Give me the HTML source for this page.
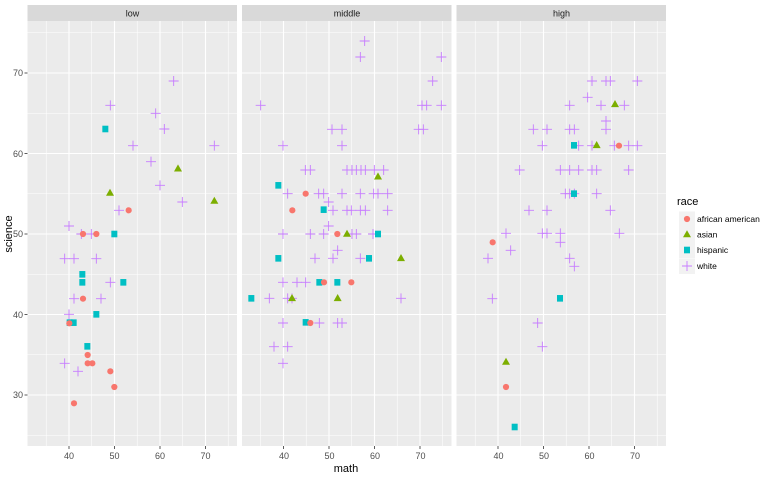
<!DOCTYPE html>
<html><head><meta charset="utf-8"><style>
html,body{margin:0;padding:0;background:#fff;}
svg{display:block;font-family:"Liberation Sans",sans-serif;}
</style></head><body>
<svg id="s" width="762" height="478" viewBox="0 0 762 478" xmlns="http://www.w3.org/2000/svg">
<g id="panels"></g>
<g font-size="9" fill="#1a1a1a" text-anchor="middle">
<text x="132.5" y="16.5">low</text>
<text x="347" y="16.5">middle</text>
<text x="561.5" y="16.5">high</text>
</g>
<g font-size="9" fill="#4d4d4d" text-anchor="end">
<text x="23" y="76">70</text>
<text x="23" y="157">60</text>
<text x="23" y="237">50</text>
<text x="23" y="318">40</text>
<text x="23" y="398">30</text>
</g>
<g font-size="9" fill="#4d4d4d" text-anchor="middle">
<text x="69" y="459">40</text><text x="114.5" y="459">50</text><text x="160" y="459">60</text><text x="205.5" y="459">70</text>
<text x="284" y="459">40</text><text x="329.5" y="459">50</text><text x="375" y="459">60</text><text x="420.5" y="459">70</text>
<text x="498.5" y="459">40</text><text x="544" y="459">50</text><text x="589.5" y="459">60</text><text x="635" y="459">70</text>
</g>
<text x="346" y="472" font-size="11" fill="#000" text-anchor="middle">math</text>
<text x="12" y="234" font-size="11" fill="#000" text-anchor="middle" transform="rotate(-90 12 234)">science</text>
<text x="677" y="205" font-size="11" fill="#000">race</text>
<g id="legend"></g>
<g font-size="8.5" fill="#000">
<text x="697" y="222">african american</text>
<text x="697" y="237.5">asian</text>
<text x="697" y="253">hispanic</text>
<text x="697" y="269">white</text>
</g>
<g id="pts"></g>
</svg>
<script>
var NS="http://www.w3.org/2000/svg";
function el(p,t,a){var e=document.createElementNS(NS,t);for(var k in a)e.setAttribute(k,a[k]);p.appendChild(e);return e;}
var P=document.getElementById('panels');
var lefts=[27.5,242,456.5],W=209.5,pTop=21,pBot=446;
function yv(s){return 73+(70-s)*8.05;}
lefts.forEach(function(L,i){
  el(P,'rect',{x:L,y:5,width:W,height:16,fill:'#d9d9d9'});
  el(P,'rect',{x:L,y:pTop,width:W,height:pBot-pTop,fill:'#ebebeb'});
  var x40=L+41.5;
  for(var m=35;m<=75;m+=5){var x=x40+(m-40)*4.55;if(x<L||x>L+W)continue;
    el(P,'line',{x1:x,x2:x,y1:pTop,y2:pBot,stroke:'#fff','stroke-width':(m%10==0)?1.1:0.55});
    if(m%10==0)el(P,'line',{x1:x,x2:x,y1:pBot,y2:pBot+3,stroke:'#333','stroke-width':0.8});}
  for(var s=25;s<=75;s+=5){var y=yv(s);
    el(P,'line',{x1:L,x2:L+W,y1:y,y2:y,stroke:'#fff','stroke-width':(s%10==0)?1.1:0.55});}
});
for(var s=30;s<=70;s+=10){var y=yv(s);el(P,'line',{x1:24.5,x2:27.5,y1:y,y2:y,stroke:'#333','stroke-width':0.8});}
var G=document.getElementById('pts');
function cross(x,y){el(G,'path',{d:'M'+(x-5)+' '+y+'H'+(x+5)+'M'+x+' '+(y-5)+'V'+(y+5),stroke:'#c77cff','stroke-width':0.9,fill:'none'});}
function circ(x,y){el(G,'circle',{cx:x,cy:y,r:3.1,fill:'#f8766d'});}
function tri(x,y){el(G,'path',{d:'M'+x+' '+(y-4.3)+'L'+(x+4)+' '+(y+2.8)+'L'+(x-4)+' '+(y+2.8)+'Z',fill:'#7cae00'});}
function sq(x,y){el(G,'rect',{x:x-3,y:y-3.3,width:6,height:6.6,fill:'#00bfc4'});}
var F={c:cross,o:circ,t:tri,s:sq};
function add(ox,oy,list){list.forEach(function(p){F[p[0]](ox+p[1]/3,oy+p[2]/3);});}
add(28,20,[['c',437,183],['c',247,256],['c',383,280],['c',409,327],['c',315,377],['c',559,377],['c',369,425],['c',396,496],['c',463,546],['c',273,571],['c',123,618],
['t',450,446],['t',246,519],['t',559,543],['s',232,327],['o',302,571]]);
add(28,230,[['c',160,12],['c',190,12],['o',165,12],['o',205,12],['s',259,12],
['c',110,86],['c',138,86],['c',205,86],['s',163,133],['s',163,157],['s',286,157],['c',247,157],
['c',138,206],['c',219,206],['o',165,206],['c',123,253],['s',205,253],['s',125,278],['s',137,278],['o',124,280],
['s',178,349],['o',179,375],['o',179,400],['o',193,400],['c',110,400],['c',150,424],['o',247,424],['o',259,471],['o',138,520]]);
add(242,20,[['c',368,63],['c',355,111],['c',598,111],['c',572,183],['c',56,256],['c',540,256],['c',554,256],['c',598,256],['c',270,328],['c',300,328],['c',530,328],['c',544,328],['c',123,377],['c',300,377],['c',190,450],['c',205,450],['c',315,450],['c',330,450],['c',343,450],['c',357,450],['c',370,450],['c',397,450],['c',425,450],['c',137,521],['c',230,521],['c',245,521],['c',300,521],['c',355,521],['c',395,521],['c',408,521],['c',437,521],['c',260,546],['c',273,571],['c',315,571],['c',328,571],['c',355,571],['c',370,571],['c',437,571],['c',260,618],
['t',408,470],['s',109,496],['s',245,569],['o',191,521],['o',151,571]]);
add(242,230,[['c',123,12],['c',205,12],['c',245,12],['c',330,12],['c',343,12],['c',393,12],['o',286,12],['t',315,12],['s',408,12],
['c',287,61],['c',219,85],['c',273,85],['c',355,85],['s',109,85],['s',381,85],['t',477,85],
['c',123,157],['c',165,157],['c',191,157],['s',232,157],['s',286,157],['o',246,157],['o',328,157],
['s',28,205],['c',82,205],['c',137,205],['c',150,205],['c',477,205],['t',150,205],['t',287,205],
['c',123,279],['c',232,279],['c',287,279],['c',300,279],['s',191,277],['o',205,279],['c',96,350],['c',137,350],['c',123,400]]);
add(456,20,[['c',408,183],['c',450,183],['c',463,183],['c',544,183],['c',395,232],['c',341,256],['c',435,256],['c',505,256],['c',450,303],['c',232,328],['c',273,328],['c',341,328],['c',355,328],['c',450,328],['c',259,377],['c',368,377],['c',408,377],['c',475,377],['c',518,377],['c',544,377],['c',191,450],['c',313,450],['c',341,450],['c',368,450],['c',408,450],['c',422,450],['c',518,450],['c',328,521],['c',341,521],['c',355,521],['c',422,521],['c',219,571],['c',273,571],['c',463,571],['c',150,640],['c',259,640],['c',273,640],['c',313,640],['c',490,640],
['t',477,253],['t',422,376],['o',489,377],['s',354,376],['s',354,521]]);
add(456,230,[['o',110,37],['c',164,61],['c',313,37],['c',96,85],['c',341,85],['c',355,109],['c',109,206],['c',245,279],['c',259,350],['s',312,205],['s',176,591],['t',150,396],['o',150,471]]);
var Lg=document.getElementById('legend');
[219,234.5,250,266].forEach(function(y){
  el(Lg,'rect',{x:679,y:y-7.5,width:16,height:15.5,fill:'#f2f2f2'});
});
G=Lg;
circ(687,219);tri(687,234.5);sq(687,250);cross(687,266);
</script>
</body></html>
